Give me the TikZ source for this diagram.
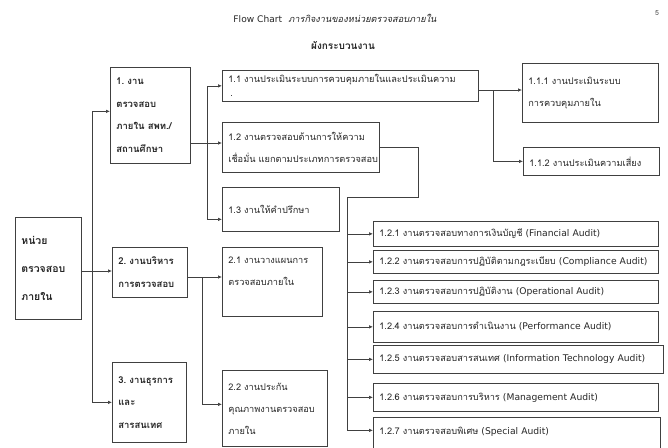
\documentclass[tikz,border=0pt]{standalone}
\usepackage{fontspec}
\newfontfamily\thaifont[Script=Thai]{Loma}
\newfontfamily\latinfont{DejaVu Sans}
\newcommand\entext[1]{{\latinfont #1}}
\usetikzlibrary{arrows.meta}
\begin{document}
\begin{tikzpicture}[x=1pt,y=-1pt,
  box/.style={draw=black!75,line width=0.7pt,anchor=north west,align=left,inner xsep=6pt,inner ysep=0pt,
    font=\thaifont\fontsize{9.2}{22}\selectfont,text=black!85},
  head/.style={box,font=\thaifont\bfseries\fontsize{9.5}{22.5}\selectfont},
  subbox/.style={box,text width=273pt,minimum height=#1},
  arr/.style={draw=black!75,line width=0.7pt,-{Latex[length=4pt,width=3.5pt]}},
  wire/.style={draw=black!75,line width=0.7pt}]
\useasboundingbox (0,0) rectangle (668,447);
\node[font=\thaifont\fontsize{9.2}{11}\selectfont,text=black!85] (title) at (335,18) {{\latinfont\fontsize{9.1}{11}\selectfont Flow Chart}\ \ {\itshape ภารกิจงานของหน่วยตรวจสอบภายใน}};
\node[font=\thaifont\bfseries\fontsize{10}{12}\selectfont,text=black!85] (chart) at (343,45) {ผังกระบวนงาน};
\node[font=\thaifont\fontsize{7}{8}\selectfont,text=black!70] (page) at (657,13) {5};

\node[box,font=\thaifont\bfseries\fontsize{10.5}{28}\selectfont,text width=54pt,minimum height=102pt] (unit) at (15,217) {หน่วย\\ตรวจสอบ\\ภายใน};
\node[head,text width=68pt,minimum height=96pt] (w1) at (110,67) {1.~งาน\\ตรวจสอบ\\ภายใน~สพท./\\สถานศึกษา};
\node[head,text width=63pt,minimum height=50pt] (w2) at (112,247) {2.~งานบริหาร\\การตรวจสอบ};
\node[head,text width=62pt,minimum height=80pt] (w3) at (112,362) {3.~งานธุรการ\\และ\\สารสนเทศ};

\node[box,text width=244pt,minimum height=31pt] (t11) at (222,70) {1.1~งานประเมินระบบการควบคุมภายในและประเมินความ\\[-8pt]\hspace*{2pt}.};
\node[box,text width=145pt,minimum height=50pt] (t12) at (222,122) {1.2~งานตรวจสอบด้านการให้ความ\\เชื่อมั่น~แยกตามประเภทการตรวจสอบ};
\node[box,text width=105pt,minimum height=44pt] (t13) at (222,187) {1.3~งานให้คำปรึกษา};
\node[box,text width=124pt,minimum height=59pt] (t111) at (522,63) {1.1.1~งานประเมินระบบ\\การควบคุมภายใน};
\node[box,text width=124pt,minimum height=28pt] (t112) at (523,147) {1.1.2~งานประเมินความเสี่ยง};
\node[box,text width=88pt,minimum height=69pt,text depth=43pt] (t21) at (222,247) {2.1~งานวางแผนการ\\ตรวจสอบภายใน};
\node[box,text width=93pt,minimum height=76pt] (t22) at (222,370) {2.2~งานประกัน\\คุณภาพงานตรวจสอบ\\ภายใน};

\node[subbox=25pt] (a1) at (373,221) {1.2.1~งานตรวจสอบทางการเงินบัญชี~\entext{(Financial~Audit)}};
\node[subbox=23pt] (a2) at (373,250) {1.2.2~งานตรวจสอบการปฏิบัติตามกฎระเบียบ~\entext{(Compliance~Audit)}};
\node[subbox=23pt] (a3) at (373,280) {1.2.3~งานตรวจสอบการปฏิบัติงาน~\entext{(Operational~Audit)}};
\node[subbox=31pt] (a4) at (373,311) {1.2.4~งานตรวจสอบการดำเนินงาน~\entext{(Performance~Audit)}};
\node[subbox=28pt,text width=278pt] (a5) at (373,345) {1.2.5~งานตรวจสอบสารสนเทศ~\entext{(Information~Technology~Audit)}};
\node[subbox=28pt] (a6) at (373,383) {1.2.6~งานตรวจสอบการบริหาร~\entext{(Management~Audit)}};
\node[subbox=40pt,text width=275pt,text depth=14pt] (a7) at (373,417) {1.2.7~งานตรวจสอบพิเศษ~\entext{(Special~Audit)}};

\coordinate (j0) at (92,271);
\coordinate (j1) at (207,143);
\coordinate (j2) at (493,90);
\coordinate (k3) at (418,197);
\coordinate (j3) at (347,197);
\coordinate (j4) at (202,277);

\draw[wire] (unit.east |- j0) -- (j0);
\draw[arr] (j0) -- (w2.west |- j0);
\draw[arr] (j0) |- ([yshift=4pt]w1.west);
\draw[arr] (j0) |- (w3.west);

\draw[wire] (w1.east |- j1) -- (j1);
\draw[arr] (j1) -- (t12.west |- j1);
\draw[arr] (j1) |- (t11.west);
\draw[arr] (j1) |- ([yshift=-10pt]t13.west);

\draw[wire] (t11.east |- j2) -- (j2);
\draw[arr] (j2) -- (t111.west |- j2);
\draw[arr] (j2) |- (t112.west);

\draw[wire] (t12.east) -| (k3) -- (j3);
\foreach \n in {1,...,6}
  \draw[arr] (j3) |- (a\n.west);
\draw[arr] (j3) |- ([yshift=7pt]a7.west);

\draw[wire] (w2.east |- j4) -- (j4);
\draw[arr] (j4) -- (t21.west |- j4);
\draw[arr] (j4) |- ([yshift=4pt]t22.west);
\end{tikzpicture}
\end{document}
